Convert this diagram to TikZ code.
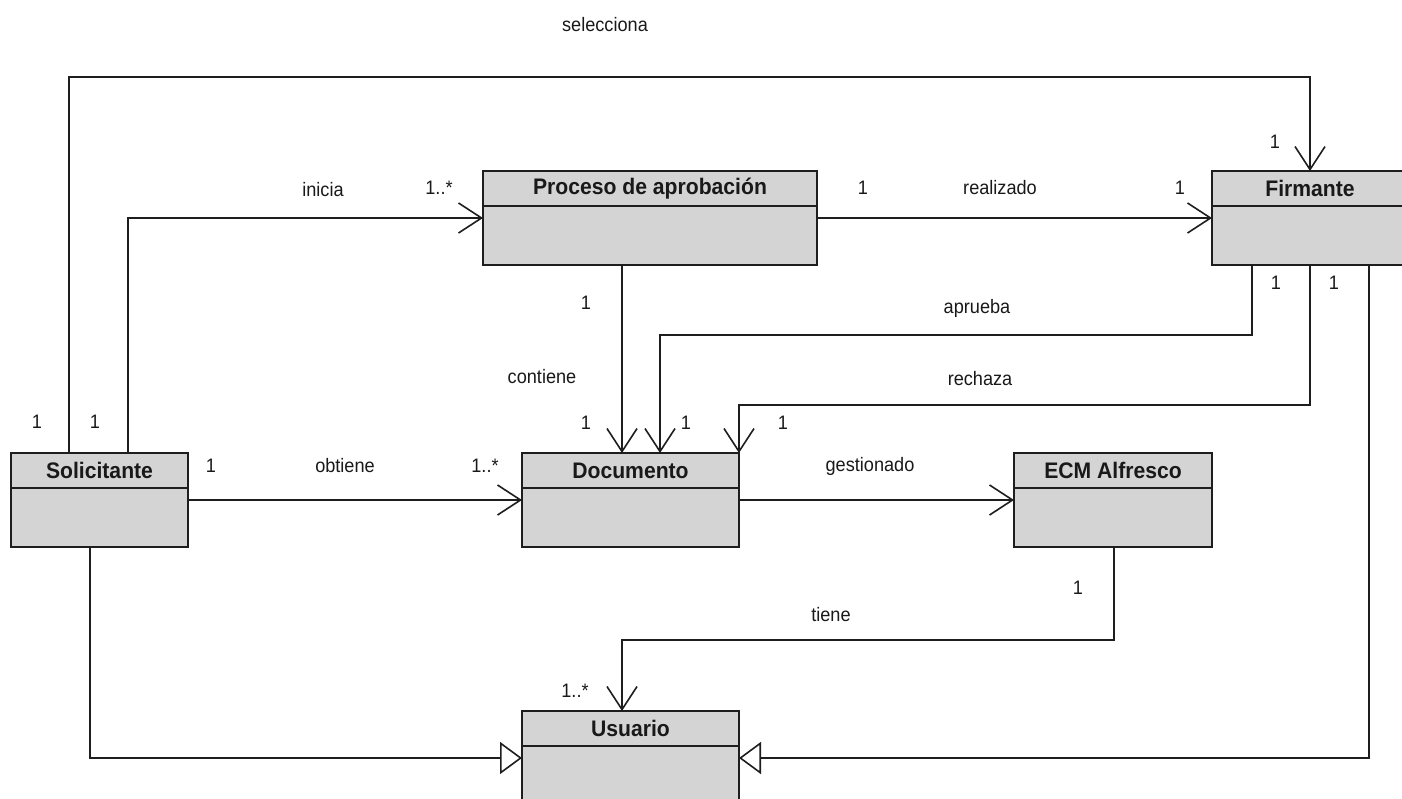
\documentclass[tikz,border=0pt]{standalone}
\usepackage{fontspec}
\setmainfont{Liberation Sans}
\usetikzlibrary{arrows.meta,calc}

\definecolor{classfill}{RGB}{212,212,212}
\definecolor{inkline}{RGB}{30,30,30}

\tikzset{
  classbox/.style={draw=inkline, line width=1.8pt, fill=classfill, rectangle,
    anchor=north west, minimum height=94pt, inner sep=0pt, outer sep=0pt},
  classtitle/.style={font=\fontsize{22.5}{26}\selectfont\bfseries, text=black!90,
    inner sep=0pt, xscale=0.94},
  assoc/.style={draw=inkline, line width=1.6pt,
    -{Straight Barb[length=23pt, width=30pt, line width=1.6pt]}},
  generalization/.style={draw=inkline, line width=1.6pt,
    -{Triangle[open, length=22pt, width=32pt, line width=1.6pt, fill=white]}},
  lbl/.style={font=\fontsize{19.5}{23}\selectfont, text=black!90, inner sep=0pt,
    xscale=0.93},
}

% \umlclass{name}{left}{top}{width}{title}
\newcommand{\umlclass}[5]{%
  \node[classbox, minimum width=#4pt] (#1) at (#2,#3) {};
  \draw[inkline, line width=1.8pt] ($(#1.north west)+(0,35)$) -- ($(#1.north east)+(0,35)$);
  \node[classtitle] (#1-title) at ($(#1.north)+(0,17.5)$) {#5};
}

\begin{document}
\begin{tikzpicture}[x=1pt, y=-1pt]
  \useasboundingbox (0,0) rectangle (1402,798);
  \clip (0,0) rectangle (1402,798);
  \fill[white] (0,0) rectangle (1402,798);

  % classes
  \umlclass{sol}{11}{453}{177}{Solicitante}
  \umlclass{proc}{483}{171}{334}{Proceso de aprobación}
  \umlclass{firm}{1212}{171}{196}{Firmante}
  \umlclass{doc}{522}{453}{217}{Documento}
  \umlclass{ecm}{1014}{453}{198}{ECM Alfresco}
  \umlclass{usu}{522}{711}{217}{Usuario}

  % associations
  \draw[assoc] (69,0 |- sol.north) -- (69,77) -- (1310,77) -- (1310,0 |- firm.north);
  \draw[assoc] (128,0 |- sol.north) -- (128,0 |- proc.west) -- (proc.west);
  \draw[assoc] (proc.east) -- (firm.west);
  \draw[assoc] (622,0 |- proc.south) -- (622,0 |- doc.north);
  \draw[assoc] (1252,0 |- firm.south) -- (1252,335) -- (660,335) -- (660,0 |- doc.north);
  \draw[assoc] (1310,0 |- firm.south) -- (1310,405) -- (739,405) -- (doc.north east);
  \draw[assoc] (sol.east) -- (doc.west);
  \draw[assoc] (doc.east) -- (ecm.west);
  \draw[assoc] (1114,0 |- ecm.south) -- (1114,640) -- (622,640) -- (622,0 |- usu.north);

  % generalizations
  \draw[generalization] (90,0 |- sol.south) -- (90,0 |- usu.west) -- (usu.west);
  \draw[generalization] (1369,0 |- firm.south) -- (1369,0 |- usu.east) -- (usu.east);

  % association names
  \node[lbl] (l-sel) at (605,25) {selecciona};
  \node[lbl] (l-ini) at (323,190) {inicia};
  \node[lbl] (l-rea) at (1000,188) {realizado};
  \node[lbl] (l-apr) at (977,308) {aprueba};
  \node[lbl] (l-con) at (542,377) {contiene};
  \node[lbl] (l-rec) at (980,379) {rechaza};
  \node[lbl] (l-obt) at (345,466) {obtiene};
  \node[lbl] (l-ges) at (870,466) {gestionado};
  \node[lbl] (l-tie) at (831,615) {tiene};

  % multiplicities
  \node[lbl] (m1) at (1275,142) {1};
  \node[lbl] (m2) at (439,188) {1..*};
  \node[lbl] (m3) at (863,188) {1};
  \node[lbl] (m4) at (1180,188) {1};
  \node[lbl] (m5) at (1276,283) {1};
  \node[lbl] (m6) at (1334,283) {1};
  \node[lbl] (m7) at (586,303) {1};
  \node[lbl] (m8) at (37,422) {1};
  \node[lbl] (m9) at (95,422) {1};
  \node[lbl] (m10) at (586,423) {1};
  \node[lbl] (m11) at (686,423) {1};
  \node[lbl] (m12) at (783,423) {1};
  \node[lbl] (m13) at (211,466) {1};
  \node[lbl] (m14) at (485,466) {1..*};
  \node[lbl] (m15) at (1078,588) {1};
  \node[lbl] (m16) at (575,691) {1..*};
\end{tikzpicture}
\end{document}
